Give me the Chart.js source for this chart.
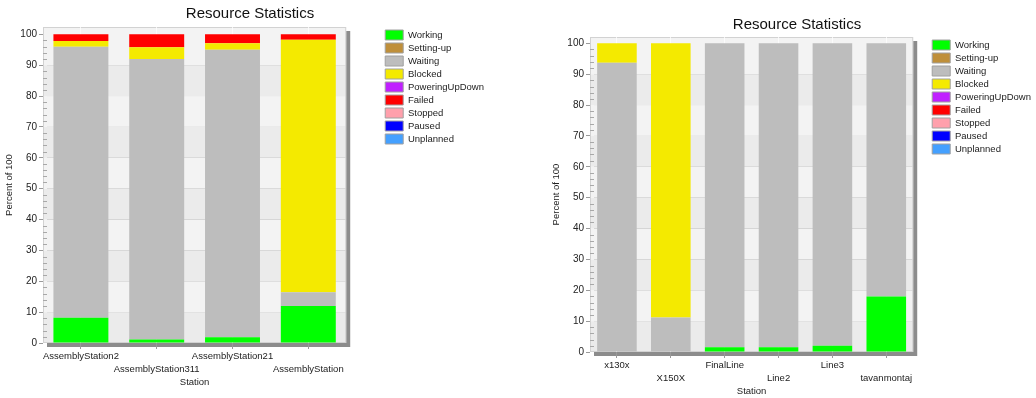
<!DOCTYPE html>
<html>
<head>
<meta charset="utf-8">
<script src="https://cdn.jsdelivr.net/npm/chart.js@4.4.0/dist/chart.umd.min.js"></script>
<style>
  body { margin: 0; background: #fff; width: 1036px; height: 398px; overflow: hidden; position: relative; }
  #chartLeft { position: absolute; left: 0; top: 0; }
  #chartRight { position: absolute; left: 540px; top: 9px; }
</style>
</head>
<body>
<canvas id="chartLeft" width="500" height="392"></canvas>
<canvas id="chartRight" width="507" height="392"></canvas>
<script>
const states = ['Working', 'Setting-up', 'Waiting', 'Blocked', 'PoweringUpDown', 'Failed', 'Stopped', 'Paused', 'Unplanned'];
const stateColors = ['#00ff00', '#bf8f3a', '#bdbdbd', '#f4ea00', '#c020ff', '#ff0000', '#ffa0ac', '#0000ff', '#44a0ff'];

// left chart
const leftStations = ['AssemblyStation2', 'AssemblyStation311', 'AssemblyStation21', 'AssemblyStation'];
const leftWorking = [8.2, 1.1, 1.9, 12.0];
const leftWaiting = [87.8, 90.9, 93.1, 4.4];
const leftBlocked = [1.8, 3.8, 2.1, 81.8];
const leftFailed = [2.2, 4.2, 2.9, 1.8];
const leftIdle = [0, 0, 0, 0];

// right chart
const rightStations = ['x130x', 'X150X', 'FinalLine', 'Line2', 'Line3', 'tavanmontaj'];
const rightWorking = [0, 0, 1.5, 1.5, 2.0, 18.0];
const rightWaiting = [93.7, 11.2, 98.5, 98.5, 98.0, 82.0];
const rightBlocked = [6.3, 88.8, 0, 0, 0, 0];
const rightIdle = [0, 0, 0, 0, 0, 0];

const yTickLabels = [0, 10, 20, 30, 40, 50, 60, 70, 80, 90, 100];

const FONT = "'Liberation Sans', Arial, sans-serif";

// bands, border and drop shadow behind the plot
const plotFrame = {
    id: 'plotFrame',
    beforeDraw(chart) {
        const { ctx, chartArea: a } = chart;
        const y = chart.scales.y;
        ctx.save();
        ctx.fillStyle = '#8c8c8c';
        ctx.fillRect(a.left + 4, a.top + 4, a.right - a.left, a.bottom - a.top);
        for (let i = 0; i < yTickLabels.length - 1; i++) {
            const lo = yTickLabels[i];
            const hi = i === yTickLabels.length - 2 ? y.max : yTickLabels[i + 1];
            const top = y.getPixelForValue(hi);
            const bot = y.getPixelForValue(lo);
            ctx.fillStyle = i % 2 === 0 ? '#ebebeb' : '#f3f3f3';
            ctx.fillRect(a.left, top, a.right - a.left, bot - top);
        }
        ctx.strokeStyle = '#d2d2d2';
        ctx.lineWidth = 1;
        ctx.strokeRect(a.left + 0.5, a.top + 0.5, a.right - a.left - 1, a.bottom - a.top - 1);
        // minor ticks inside the left edge
        ctx.strokeStyle = '#a8a8a8';
        ctx.beginPath();
        for (let v = 2; v < 100; v += 2) {
            if (v % 10 === 0) continue;
            const py = Math.round(y.getPixelForValue(v)) + 0.5;
            ctx.moveTo(a.left, py);
            ctx.lineTo(a.left + 4, py);
        }
        ctx.stroke();
        ctx.restore();
    }
};

// leave some room between the plot and the legend items
const legendGap = {
    id: 'legendGap',
    beforeLayout(chart, args, opts) {
        const lg = chart.legend;
        if (!lg || lg._gapped) return;
        const fit = lg.fit.bind(lg);
        lg.fit = function () {
            fit();
            this.width += opts.gap + opts.extra;
        };
        lg._gapped = true;
    },
    afterLayout(chart, args, opts) {
        if (chart.legend) chart.legend.left += opts.gap;
    }
};

function makeChart(canvasId, stations, series, opt) {
    const datasets = states.map((name, i) => ({
        label: name,
        data: series[name],
        backgroundColor: stateColors[i],
        borderWidth: 0,
        categoryPercentage: 1,
        barPercentage: opt.barPct
    }));
    const labels = stations.map((s, i) => (i % 2 ? ['', s] : s));

    return new Chart(document.getElementById(canvasId), {
        type: 'bar',
        data: { labels: labels, datasets: datasets },
        plugins: [plotFrame, legendGap],
        options: {
            responsive: false,
            animation: false,
            layout: { padding: { left: opt.padLeft, right: 0, top: 0, bottom: 0 } },
            plugins: {
                tooltip: { enabled: false },
                legendGap: { gap: opt.gap, extra: 6 },
                title: {
                    display: true,
                    text: 'Resource Statistics',
                    color: '#111',
                    font: { family: FONT, size: 15, weight: 'normal' },
                    padding: { top: opt.titleTop, bottom: opt.titleBottom }
                },
                legend: {
                    position: 'right',
                    align: 'start',
                    fullSize: false,
                    labels: {
                        color: '#222',
                        font: { family: FONT, size: 9.5 },
                        boxWidth: 18,
                        boxHeight: 10,
                        padding: 3,
                        generateLabels(chart) {
                            const items = Chart.defaults.plugins.legend.labels.generateLabels(chart);
                            items.forEach(it => { it.strokeStyle = '#a0a0a0'; it.lineWidth = 1; });
                            return items;
                        }
                    }
                }
            },
            scales: {
                x: {
                    stacked: true,
                    grid: {
                        offset: false,
                        color: 'rgba(255,255,255,0.75)',
                        tickColor: '#9a9a9a',
                        tickLength: 6
                    },
                    border: { display: false },
                    ticks: {
                        autoSkip: false,
                        maxRotation: 0,
                        padding: 1,
                        color: '#222',
                        font: { family: FONT, size: 9.5, lineHeight: 1.34 }
                    },
                    title: {
                        display: true,
                        text: 'Station',
                        color: '#222',
                        font: { family: FONT, size: 9.5 },
                        padding: { top: 0, bottom: 4 }
                    },
                    afterFit(scale) { scale.height = 49; }
                },
                y: {
                    stacked: true,
                    min: 0,
                    max: opt.yMax,
                    afterBuildTicks(scale) {
                        scale.ticks = yTickLabels.map(v => ({ value: v }));
                    },
                    grid: {
                        drawOnChartArea: false,
                        tickColor: '#9a9a9a',
                        tickLength: 4
                    },
                    border: { display: false },
                    ticks: {
                        padding: 2,
                        color: '#222',
                        font: { family: FONT, size: 10 }
                    },
                    title: {
                        display: true,
                        text: 'Percent of 100',
                        color: '#222',
                        font: { family: FONT, size: 9.5 },
                        padding: { top: 4, bottom: 0 }
                    },
                    afterFit(scale) { scale.width = 43; }
                }
            }
        }
    });
}

makeChart('chartLeft', leftStations, {
    'Working': leftWorking,
    'Setting-up': leftIdle,
    'Waiting': leftWaiting,
    'Blocked': leftBlocked,
    'PoweringUpDown': leftIdle,
    'Failed': leftFailed,
    'Stopped': leftIdle,
    'Paused': leftIdle,
    'Unplanned': leftIdle
}, { barPct: 0.725, padLeft: 0, titleTop: 5, titleBottom: 4, yMax: 102.36, gap: 36 });

makeChart('chartRight', rightStations, {
    'Working': rightWorking,
    'Setting-up': rightIdle,
    'Waiting': rightWaiting,
    'Blocked': rightBlocked,
    'PoweringUpDown': rightIdle,
    'Failed': rightIdle,
    'Stopped': rightIdle,
    'Paused': rightIdle,
    'Unplanned': rightIdle
}, { barPct: 0.735, padLeft: 7, titleTop: 7, titleBottom: 3, yMax: 102.04, gap: 16 });
</script>
</body>
</html>
